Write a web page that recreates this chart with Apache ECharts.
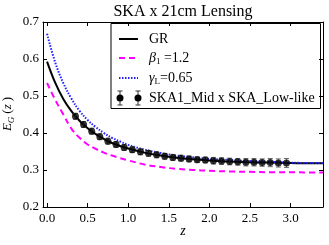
<!DOCTYPE html>
<html>
<head>
<meta charset="utf-8">
<script src="https://cdn.jsdelivr.net/npm/echarts@6/dist/echarts.min.js"></script>
<style>html,body{margin:0;padding:0;background:#fff}#c{width:329px;height:245px}</style>
</head>
<body>
<div id="c"></div>
<script>
// ---- data ----
const zCurve   = [0, 0.1, 0.2, 0.3, 0.4, 0.5, 0.6, 0.7, 0.8, 0.9, 1.0, 1.2, 1.4, 1.6, 1.8, 2.0, 2.25, 2.5, 2.75, 3.0, 3.2, 3.4];
const grVals   = [0.593, 0.536, 0.492, 0.459, 0.433, 0.413, 0.397, 0.384, 0.373, 0.365, 0.358, 0.347, 0.339, 0.333, 0.329, 0.326, 0.323, 0.321, 0.320, 0.319, 0.318, 0.318];
const betaVals = [0.535, 0.490, 0.450, 0.412, 0.387, 0.369, 0.357, 0.347, 0.339, 0.332, 0.326, 0.315, 0.308, 0.303, 0.300, 0.298, 0.296, 0.295, 0.294, 0.294, 0.2935, 0.293];
const gamVals  = [0.668, 0.591, 0.535, 0.493, 0.460, 0.435, 0.416, 0.400, 0.387, 0.377, 0.368, 0.355, 0.346, 0.339, 0.334, 0.330, 0.327, 0.324, 0.322, 0.320, 0.319, 0.319];
const zPts   = [0.35, 0.45, 0.55, 0.65, 0.75, 0.85, 0.95, 1.05, 1.15, 1.25, 1.35, 1.45, 1.55, 1.65, 1.75, 1.85, 1.95, 2.05, 2.15, 2.25, 2.35, 2.45, 2.55, 2.65, 2.75, 2.85, 2.95];
const egPts  = [0.445, 0.423, 0.405, 0.390, 0.378, 0.369, 0.361, 0.355, 0.349, 0.345, 0.341, 0.337, 0.334, 0.332, 0.330, 0.328, 0.327, 0.325, 0.324, 0.323, 0.322, 0.321, 0.321, 0.320, 0.320, 0.319, 0.319];
const errPts = [0.008, 0.008, 0.008, 0.008, 0.008, 0.008, 0.008, 0.008, 0.008, 0.008, 0.008, 0.008, 0.008, 0.008, 0.008, 0.008, 0.008, 0.009, 0.009, 0.009, 0.009, 0.010, 0.010, 0.010, 0.011, 0.011, 0.012];
const xTicks = [0, 0.5, 1.0, 1.5, 2.0, 2.5, 3.0];
const labels = { title: 'SKA x 21cm Lensing', gr: 'GR', beta: '=1.2', gamma: '=0.65', ska: 'SKA1_Mid x SKA_Low-like' };

const FONT = '"Liberation Serif", "DejaVu Serif", serif';
const chart = echarts.init(document.getElementById('c'), null, { renderer: 'canvas' });

const pair = (xs, ys) => xs.map((x, i) => [x, ys[i]]);

const axisCommon = {
  type: 'value',
  axisLine: { show: true, onZero: false, lineStyle: { color: '#000', width: 1 } },
  axisTick: { show: true, inside: true, length: 4, lineStyle: { color: '#000', width: 1 } },
  splitLine: { show: false }
};

const richLeg = {
  i: { fontFamily: FONT, fontStyle: 'italic', fontSize: 14, fill: '#000', lineHeight: 17 },
  s: { fontFamily: FONT, fontSize: 9, fill: '#000', lineHeight: 17, verticalAlign: 'bottom', padding: [6, 0, 0, 0] },
  n: { fontFamily: FONT, fontSize: 14, fill: '#000', lineHeight: 17 }
};

const option = {
  animation: false,
  grid: { left: 43, right: 6, top: 22, bottom: 38, containLabel: false },
  xAxis: [
    Object.assign({}, axisCommon, {
      min: -0.05, max: 3.4, position: 'bottom',
      axisTick: Object.assign({}, axisCommon.axisTick, { customValues: xTicks }),
      axisLabel: { customValues: xTicks, formatter: v => v.toFixed(1), color: '#000', fontFamily: FONT, fontSize: 13, margin: 5 }
    }),
    Object.assign({}, axisCommon, {
      min: -0.05, max: 3.4, position: 'top',
      axisTick: Object.assign({}, axisCommon.axisTick, { customValues: xTicks }),
      axisLabel: { show: false }
    })
  ],
  yAxis: [
    Object.assign({}, axisCommon, {
      min: 0.2, max: 0.7, interval: 0.1, position: 'left',
      axisLabel: { formatter: v => v.toFixed(1), color: '#000', fontFamily: FONT, fontSize: 13, margin: 4 }
    }),
    Object.assign({}, axisCommon, {
      min: 0.2, max: 0.7, interval: 0.1, position: 'right',
      axisLabel: { show: false }
    })
  ],
  series: [
    { type: 'line', data: pair(zCurve, betaVals), smooth: 0.4, showSymbol: false, clip: true,
      lineStyle: { color: '#ff00ff', width: 2, type: [6, 4] }, z: 2 },
    { type: 'line', data: pair(zCurve, grVals), smooth: 0.4, showSymbol: false, clip: true,
      lineStyle: { color: '#000', width: 2 }, z: 3 },
    { type: 'line', data: pair(zCurve, gamVals), smooth: 0.4, showSymbol: false, clip: true,
      lineStyle: { color: '#1f1fff', width: 2, type: [1.5, 1.5] }, z: 4 },
    { type: 'custom', data: zPts.map((z, i) => [z, egPts[i], errPts[i]]), z: 5,
      renderItem: function (params, api) {
        const x = api.value(0), y = api.value(1), e = api.value(2);
        const p1 = api.coord([x, y + e]), p2 = api.coord([x, y - e]);
        const cw = 2.5;
        const st = { stroke: '#666', lineWidth: 1 };
        return { type: 'group', children: [
          { type: 'line', shape: { x1: p1[0], y1: p1[1], x2: p2[0], y2: p2[1] }, style: st },
          { type: 'line', shape: { x1: p1[0] - cw, y1: p1[1], x2: p1[0] + cw, y2: p1[1] }, style: st },
          { type: 'line', shape: { x1: p2[0] - cw, y1: p2[1], x2: p2[0] + cw, y2: p2[1] }, style: st }
        ]};
      }
    },
    { type: 'scatter', data: pair(zPts, egPts), symbol: 'circle', symbolSize: 7,
      itemStyle: { color: '#000' }, z: 6 }
  ],
  graphic: [
    { type: 'text', x: 183, y: 12, z: 10,
      style: { text: labels.title, font: '16px ' + FONT, fill: '#000', textAlign: 'center', textVerticalAlign: 'middle' } },
    { type: 'text', x: 8, y: 114, rotation: Math.PI / 2, z: 10,
      style: { text: '{i|E}{s|G}{n|(}{i|z}{n|)}', textAlign: 'center', textVerticalAlign: 'middle',
        rich: {
          i: { fontFamily: FONT, fontStyle: 'italic', fontSize: 13, fill: '#000', lineHeight: 16 },
          n: { fontFamily: FONT, fontSize: 13, fill: '#000', lineHeight: 16, padding: [0, 0, 0, 3] },
          s: { fontFamily: FONT, fontStyle: 'italic', fontSize: 9, fill: '#000', lineHeight: 16, verticalAlign: 'bottom', padding: [5, 0, 0, 0] }
        } } },
    { type: 'text', x: 183, y: 231, z: 10,
      style: { text: 'z', font: 'italic 14px ' + FONT, fill: '#000', textAlign: 'center', textVerticalAlign: 'middle' } },
    // legend
    { type: 'group', z: 20, children: [
      { type: 'rect', shape: { x: 111, y: 23.5, width: 209.5, height: 85 }, style: { fill: '#fff', stroke: '#000', lineWidth: 1 } },
      { type: 'line', shape: { x1: 119, y1: 39, x2: 138, y2: 39 }, style: { stroke: '#000', lineWidth: 2 } },
      { type: 'text', x: 149, y: 39, style: { text: labels.gr, font: '14px ' + FONT, fill: '#000', textVerticalAlign: 'middle' } },
      { type: 'line', shape: { x1: 119, y1: 58, x2: 138, y2: 58 }, style: { stroke: '#ff00ff', lineWidth: 2, lineDash: [6, 4] } },
      { type: 'text', x: 149, y: 58, style: { textVerticalAlign: 'middle', text: '{i|β}{s|1}{n| ' + labels.beta + '}', rich: richLeg } },
      { type: 'line', shape: { x1: 119, y1: 78, x2: 138, y2: 78 }, style: { stroke: '#1f1fff', lineWidth: 2, lineDash: [1.5, 1.5] } },
      { type: 'text', x: 149, y: 78, style: { textVerticalAlign: 'middle', text: '{i|γ}{s|L}{n|' + labels.gamma + '}', rich: richLeg } },
      { type: 'line', shape: { x1: 120, y1: 91, x2: 120, y2: 105 }, style: { stroke: '#333', lineWidth: 1 } },
      { type: 'line', shape: { x1: 117.5, y1: 91, x2: 122.5, y2: 91 }, style: { stroke: '#333', lineWidth: 1 } },
      { type: 'line', shape: { x1: 117.5, y1: 105, x2: 122.5, y2: 105 }, style: { stroke: '#333', lineWidth: 1 } },
      { type: 'circle', shape: { cx: 120, cy: 98, r: 3.5 }, style: { fill: '#000' } },
      { type: 'line', shape: { x1: 138, y1: 91, x2: 138, y2: 105 }, style: { stroke: '#333', lineWidth: 1 } },
      { type: 'line', shape: { x1: 135.5, y1: 91, x2: 140.5, y2: 91 }, style: { stroke: '#333', lineWidth: 1 } },
      { type: 'line', shape: { x1: 135.5, y1: 105, x2: 140.5, y2: 105 }, style: { stroke: '#333', lineWidth: 1 } },
      { type: 'circle', shape: { cx: 138, cy: 98, r: 3.5 }, style: { fill: '#000' } },
      { type: 'text', x: 149, y: 98, style: { text: labels.ska, font: '14px ' + FONT, fill: '#000', textVerticalAlign: 'middle' } }
    ] }
  ]
};
chart.setOption(option);
</script>
</body>
</html>
